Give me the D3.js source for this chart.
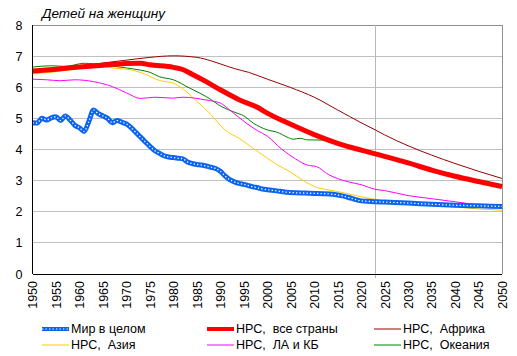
<!DOCTYPE html>
<html><head><meta charset="utf-8">
<script src="https://cdn.jsdelivr.net/npm/d3@7"></script>
<style>body{margin:0;background:#fff}svg{display:block}text{font-family:"Liberation Sans",Arial,sans-serif;fill:#000}</style>
</head><body><svg id="c" width="517" height="356"></svg>
<script>
const xTicks = d3.range(1950, 2051, 5);
const yTicks = [0,1,2,3,4,5,6,7,8];
const markerYear = 2023;
const titleText = "Детей на женщину";

const worldData = [[1950,4.86],[1951,4.85],[1952,5.0],[1953,4.95],[1954,5.02],[1955,5.05],[1956,4.93],[1957,5.08],[1958,4.95],[1959,4.78],[1960,4.7],[1961,4.58],[1962,4.9],[1963,5.27],[1964,5.15],[1965,5.08],[1966,5.0],[1967,4.86],[1968,4.93],[1969,4.88],[1970,4.82],[1971,4.7],[1972,4.55],[1973,4.4],[1974,4.25],[1975,4.1],[1976,3.97],[1977,3.88],[1978,3.8],[1979,3.76],[1980,3.74],[1981,3.72],[1982,3.7],[1983,3.6],[1984,3.55],[1985,3.52],[1986,3.5],[1987,3.47],[1988,3.43],[1989,3.39],[1990,3.3],[1991,3.15],[1992,3.03],[1993,2.96],[1994,2.91],[1995,2.88],[1996,2.84],[1997,2.8],[1998,2.77],[1999,2.73],[2000,2.71],[2002,2.67],[2004,2.63],[2006,2.61],[2008,2.6],[2010,2.59],[2012,2.58],[2014,2.56],[2016,2.51],[2018,2.43],[2020,2.35],[2022,2.33],[2025,2.31],[2030,2.28],[2035,2.24],[2040,2.21],[2045,2.19],[2050,2.17]];
const allData = [[1950,6.52],[1955,6.58],[1960,6.65],[1965,6.71],[1970,6.76],[1973,6.77],[1975,6.72],[1980,6.64],[1982,6.57],[1984,6.42],[1987,6.18],[1990,5.92],[1994,5.6],[1998,5.35],[2000,5.17],[2005,4.81],[2010,4.48],[2015,4.2],[2020,3.98],[2023,3.86],[2025,3.78],[2030,3.57],[2035,3.34],[2040,3.14],[2045,2.97],[2050,2.81]];
const africaData = [[1950,6.55],[1955,6.6],[1960,6.68],[1965,6.78],[1970,6.87],[1975,6.96],[1980,7.01],[1985,6.96],[1988,6.85],[1990,6.75],[1993,6.6],[1996,6.48],[2000,6.26],[2005,5.99],[2010,5.68],[2015,5.27],[2020,4.86],[2023,4.63],[2025,4.47],[2030,4.12],[2035,3.82],[2040,3.55],[2045,3.3],[2050,3.07]];
const asiaData = [[1950,6.43],[1955,6.5],[1960,6.6],[1964,6.69],[1967,6.62],[1971,6.56],[1974,6.42],[1977,6.22],[1980,6.13],[1982,5.95],[1985,5.55],[1988,5.12],[1989,4.95],[1991,4.63],[1994,4.36],[1997,4.04],[2000,3.72],[2002,3.52],[2005,3.27],[2008,2.97],[2010,2.81],[2013,2.7],[2015,2.65],[2020,2.48],[2023,2.4],[2025,2.35],[2030,2.26],[2035,2.22],[2040,2.15],[2045,2.09],[2050,2.05]];
const laData = [[1950,6.26],[1953,6.24],[1956,6.21],[1959,6.24],[1963,6.18],[1967,6.02],[1970,5.82],[1973,5.64],[1976,5.68],[1980,5.65],[1982,5.68],[1987,5.59],[1990,5.49],[1992,5.27],[1995.5,4.85],[1998,4.6],[2000,4.43],[2003,4.02],[2006,3.7],[2008.5,3.5],[2010.5,3.45],[2013,3.2],[2017,2.97],[2020,2.87],[2023,2.72],[2025,2.68],[2030,2.52],[2035,2.42],[2040,2.32],[2045,2.22],[2050,2.14]];
const oceaniaData = [[1950,6.65],[1954,6.69],[1957,6.67],[1961,6.77],[1965,6.72],[1969,6.64],[1973,6.55],[1975,6.48],[1977,6.34],[1980,6.24],[1983.5,5.97],[1987,5.7],[1990.5,5.36],[1993,5.2],[1995,5.08],[1997,4.85],[2000,4.63],[2002,4.56],[2004.5,4.38],[2005.5,4.33],[2007,4.36],[2008.5,4.31],[2012.5,4.3],[2015.5,4.2],[2020,3.98],[2023,3.82],[2025,3.74],[2030,3.53],[2035,3.31],[2040,3.1],[2045,2.95],[2050,2.78]];

const series = [
  {name:"Мир в целом", data:worldData, color:"#0a64f0", w:5, world:true},
  {name:"НРС,  все страны", data:allData, color:"#ff0000", w:5},
  {name:"НРС,  Африка", data:africaData, color:"#990000", w:1},
  {name:"НРС,  Азия", data:asiaData, color:"#ffcc00", w:1},
  {name:"НРС,  ЛА и КБ", data:laData, color:"#ff00ff", w:1},
  {name:"НРС,  Океания", data:oceaniaData, color:"#008000", w:1}
];

const svg = d3.select("#c");
const L=32.5, R=502, T=25, B=274;
const x = d3.scaleLinear().domain([1950,2050]).range([L,R]);
const y = d3.scaleLinear().domain([0,8]).range([B,T]);

svg.append("g").selectAll("line").data(yTicks.filter(d=>d>0)).join("line")
  .attr("x1",L).attr("x2",R).attr("y1",d=>y(d)).attr("y2",d=>y(d))
  .attr("stroke","#c0c0c0").attr("stroke-width",1).attr("shape-rendering","crispEdges");
svg.append("line").attr("x1",R).attr("x2",R).attr("y1",T).attr("y2",B)
  .attr("stroke","#909090").attr("shape-rendering","crispEdges");
svg.append("line").attr("x1",L).attr("x2",R).attr("y1",T).attr("y2",T)
  .attr("stroke","#909090").attr("shape-rendering","crispEdges");
svg.append("line").attr("x1",x(markerYear)).attr("x2",x(markerYear)).attr("y1",T).attr("y2",B+4)
  .attr("stroke","#b8b8b8").attr("shape-rendering","crispEdges");

const line = d3.line().x(d=>x(d[0])).y(d=>y(d[1])).curve(d3.curveMonotoneX);
const order = [5,3,4,2,1,0];
const plot = svg.append("g");
order.forEach(i=>{
  const s = series[i];
  plot.append("path").datum(s.data).attr("d",line).attr("fill","none")
    .attr("stroke",s.color).attr("stroke-width",s.w).attr("stroke-linejoin","round");
  if(s.world){
    plot.append("path").datum(s.data).attr("d",line).attr("fill","none")
      .attr("stroke","#fff").attr("stroke-width",1.3).attr("stroke-dasharray","1.3,2.2");
  }
});

const yAxis = svg.append("g").attr("transform",`translate(${L},0)`)
  .call(d3.axisLeft(y).tickValues(yTicks).tickSize(0).tickPadding(10).tickFormat(d3.format("d")));
yAxis.select(".domain").remove();
yAxis.selectAll("text").attr("font-size",12.5).style("font-family","Liberation Sans, Arial, sans-serif");

const xAxis = svg.append("g").attr("transform",`translate(0,${B})`)
  .call(d3.axisBottom(x).tickValues(xTicks).tickSize(0).tickFormat(d3.format("d")));
xAxis.select(".domain").remove();
xAxis.selectAll("text").attr("font-size",12.5).style("font-family","Liberation Sans, Arial, sans-serif")
  .attr("text-anchor","end").attr("transform","rotate(-90)").attr("x",-7).attr("y",0).attr("dy","0.35em");

svg.append("line").attr("x1",L).attr("x2",L).attr("y1",T).attr("y2",B).attr("stroke","#000").attr("shape-rendering","crispEdges");
svg.append("line").attr("x1",L).attr("x2",R).attr("y1",B).attr("y2",B).attr("stroke","#000").attr("shape-rendering","crispEdges");

svg.append("text").attr("x",42).attr("y",18).attr("font-size",13.5).attr("font-style","italic").text(titleText);

const lx = [42, 207, 374], ly = [329, 345];
series.forEach((s,i)=>{
  const cx = lx[i%3], cy = ly[Math.floor(i/3)];
  const g = svg.append("g");
  g.append("line").attr("x1",cx).attr("x2",cx+27).attr("y1",cy).attr("y2",cy)
    .attr("stroke",s.color).attr("stroke-width",s.w===5?4:1);
  if(s.world) g.append("line").attr("x1",cx).attr("x2",cx+27).attr("y1",cy).attr("y2",cy)
    .attr("stroke","#fff").attr("stroke-width",1.2).attr("stroke-dasharray","1.3,2.2");
  g.append("text").attr("x",cx+29).attr("y",cy).attr("dy","0.35em").attr("font-size",12.5)
    .style("white-space","pre").attr("xml:space","preserve").text(s.name);
});
</script></body></html>
